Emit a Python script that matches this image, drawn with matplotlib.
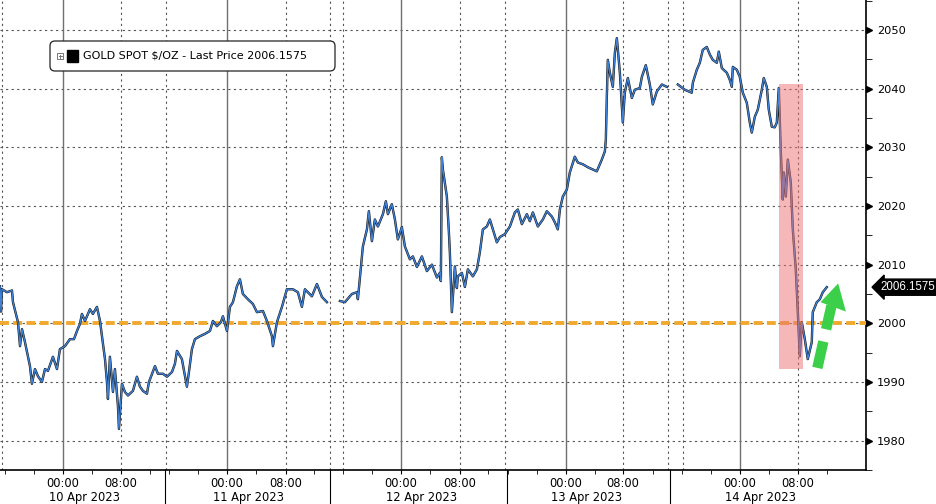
"""Gold spot intraday chart, 10-14 Apr 2023"""
import matplotlib
matplotlib.use("Agg")
import matplotlib.pyplot as plt
import matplotlib.transforms as mtransforms
from matplotlib.patches import Rectangle, Polygon, FancyBboxPatch
import numpy as np

nan = np.nan

# trading-time axis, hours after 10 Apr 00:00 (nan = session break)
HOURS = [
    -8.93, -8.79, -8.65, -7.94, -7.23, -7.09, -6.38, -6.09, -5.81, -5.39,
    -4.68, -4.40, -3.97, -3.55, -2.98, -2.55, -2.13, -1.42, -0.85, -0.43,
    0.28, 0.99, 1.56, 1.99, 2.41, 2.69, 3.12, 3.83, 4.25, 4.82,
    5.25, 5.53, 5.96, 6.24, 6.38, 6.66, 7.09, 7.37, 7.80, 7.94,
    8.37, 8.79, 9.22, 9.93, 10.49, 10.92, 11.34, 11.91, 12.20, 13.05,
    13.47, 14.18, 14.75, 15.46, 15.88, 16.17, 16.87, 17.58, 17.87, 18.29,
    18.72, 19.43, 20.14, 20.85, 21.27, 21.84, 22.40, 22.69, 23.26, 23.68,
    24.11, 24.67, 25.10, 25.52, 26.23, 26.94, 27.51, 28.36, 28.93, 29.64,
    29.78, 30.35, 31.06, 31.76, 32.61, 33.32, 33.89, 34.32, 35.31, 36.02,
    36.73, 37.44, nan,
    39.28, 39.99, 40.98, 41.69, 41.83, 42.40, 42.54, 43.11, 43.39, 43.82,
    44.24, 44.67, 45.38, 45.80, 46.09, 46.65, 47.08, 47.50, 48.07, 48.50,
    49.21, 49.63, 50.20, 50.91, 51.62, 52.33, 53.04, 53.46, 53.60, 53.74,
    53.89, 54.45, 54.74, 54.88, 55.16, 55.59, 55.87, 56.01, 56.58, 57.01,
    57.43, 58.14, 58.71, 59.13, 59.56, 60.12, 60.55, 60.98, 61.54, 61.97,
    62.68, 63.39, 64.10, 64.52, 65.09, 65.80, 66.22, 66.65, 67.36, 68.07,
    68.63, 69.34, 69.77, 70.19, 70.48, 70.90, 71.47, 71.89, 72.60, 73.03,
    73.74, 74.45, 75.16, 75.72, 76.43, 76.86, 77.00, 77.14, 77.28, 77.57,
    77.99, 78.28, 78.56, 78.99, 79.41, 79.69, 80.12, 80.69, 81.11, 81.82,
    82.11, 82.67, 83.24, 83.66, 84.23, 84.94, 85.65, nan,
    87.21, 88.20, 89.19, 89.34, 89.90, 90.33, 90.75, 91.32, 91.75, 92.17,
    92.74, 93.02, 93.45, 94.16, 94.58, 94.87, 95.01, 95.58, 96.00, 96.43,
    96.99, 97.42, 97.70, 98.13, 98.55, 99.12, 99.40, 99.83, 100.11, 100.54,
    100.96, 101.25, 101.53, 101.82, 102.10, 102.24, 102.53, 102.81, 103.23, 103.52,
    103.94, 104.23, 104.51, 104.79, 105.22, 105.64, 106.21, 106.35, 106.92, 107.35,
    107.77, 108.34,
]
PRICES = [
    2006.3, 2002.0, 2005.8, 2005.3, 2005.6, 2003.6, 2000.2, 1996.1, 1999.0, 1996.8,
    1992.7, 1989.7, 1992.2, 1991.0, 1990.0, 1992.2, 1991.9, 1994.3, 1992.2, 1995.6,
    1996.1, 1997.3, 1997.3, 1998.7, 1999.9, 2001.6, 2000.4, 2002.4, 2001.6, 2002.8,
    2000.4, 1997.8, 1993.9, 1990.0, 1987.1, 1994.3, 1988.3, 1992.2, 1985.9, 1982.0,
    1989.7, 1988.3, 1987.7, 1988.5, 1990.9, 1989.2, 1988.5, 1988.0, 1990.0, 1992.7,
    1991.4, 1991.4, 1990.9, 1991.7, 1993.1, 1995.3, 1993.9, 1989.2, 1991.7, 1995.6,
    1997.3, 1997.8, 1998.2, 1998.7, 2000.4, 1999.5, 2000.2, 2001.2, 1998.7, 2002.8,
    2003.6, 2006.3, 2007.5, 2005.0, 2004.1, 2003.3, 2001.9, 2002.1, 2000.4, 1997.8,
    1996.1, 2000.2, 2002.8, 2005.8, 2005.8, 2005.3, 2002.8, 2005.8, 2004.6, 2006.7,
    2004.5, 2003.6, nan,
    2003.8, 2003.6, 2005.0, 2005.3, 2004.1, 2011.4, 2013.1, 2016.0, 2019.1, 2014.0,
    2017.7, 2016.5, 2018.6, 2020.8, 2018.6, 2020.3, 2017.7, 2014.3, 2016.4, 2013.1,
    2010.9, 2011.4, 2009.6, 2011.4, 2008.9, 2010.0, 2007.8, 2008.6, 2007.2, 2028.3,
    2026.2, 2021.6, 2015.5, 2012.0, 2001.9, 2009.7, 2006.0, 2008.0, 2008.6, 2006.2,
    2009.2, 2008.0, 2009.2, 2012.1, 2016.0, 2016.5, 2017.7, 2016.0, 2013.8, 2014.7,
    2015.2, 2016.5, 2018.9, 2019.4, 2016.9, 2018.6, 2017.4, 2018.9, 2016.5, 2017.7,
    2019.1, 2018.2, 2017.2, 2016.0, 2019.4, 2021.6, 2022.8, 2025.7, 2028.4, 2027.4,
    2027.1, 2026.6, 2026.2, 2025.9, 2027.9, 2029.3, 2031.3, 2038.6, 2044.9, 2042.7,
    2040.3, 2046.1, 2048.6, 2042.7, 2034.2, 2039.3, 2041.8, 2038.4, 2039.8, 2040.1,
    2042.0, 2044.0, 2040.7, 2037.3, 2039.5, 2040.7, 2040.3, nan,
    2040.7, 2039.8, 2039.3, 2041.0, 2043.2, 2044.4, 2046.6, 2047.1, 2045.8, 2044.9,
    2044.4, 2046.3, 2043.5, 2042.7, 2041.5, 2040.3, 2043.7, 2043.2, 2042.0, 2039.3,
    2037.6, 2034.2, 2032.5, 2035.2, 2036.4, 2039.8, 2041.8, 2040.3, 2036.4, 2033.5,
    2033.4, 2034.2, 2040.1, 2029.1, 2021.1, 2025.7, 2021.6, 2027.9, 2024.0, 2016.0,
    2009.2, 2001.9, 1994.4, 2000.2, 1997.3, 1993.9, 1996.8, 2001.9, 2003.6, 2004.1,
    2005.3, 2006.16,
]

LAST_PRICE = "2006.1575"
LEGEND_TEXT = "GOLD SPOT $/OZ - Last Price 2006.1575"

MIDNIGHTS = [0.0, 23.26, 47.93, 71.33, 96.0]
EIGHTS = [8.22, 31.62, 56.30, 79.41, 104.23]
DAY_LABELS = ["10 Apr 2023", "11 Apr 2023", "12 Apr 2023", "13 Apr 2023", "14 Apr 2023"]
DOTTED_X = [-8.65, 8.22, 14.61, 31.62, 37.86, 39.71, 56.30, 62.68, 79.41, 85.79, 87.92, 104.23]
SESSION_BREAKS = [14.46, 37.86, 62.96, 86.07]
Y_TICKS = [1980, 1990, 2000, 2010, 2020, 2030, 2040, 2050]

REFERENCE_LEVEL = 2000
SELLOFF_SPAN = (101.53, 104.94)
SELLOFF_RANGE = (1992.2, 2040.7)
ARROW_TAIL = (107.0, 1992.4)
ARROW_NECK = (109.0, 2003.0)
ARROW_HEAD = [(109.95, 2006.8), (107.45, 2003.6), (111.05, 2002.0)]

fig = plt.figure(figsize=(9.36, 5.04), dpi=100)
ax = fig.add_axes([0, 34 / 504, 866 / 936, 470 / 504])
ax.set_xlim(-8.93, 113.9)
ax.set_ylim(1975.24, 2055.1)

grid_kw = dict(color="#555555", lw=0.8, ls=(0, (2, 3)), zorder=1)
for y in Y_TICKS:
    ax.axhline(y, **grid_kw)
for x in DOTTED_X:
    ax.axvline(x, **grid_kw)
for x in MIDNIGHTS:
    ax.axvline(x, color="#707070", lw=1.0, zorder=1)

ax.axhline(REFERENCE_LEVEL, color="#f0a92e", lw=2.8, ls=(0, (2.3, 1.1)), zorder=3)

ax.plot(HOURS, PRICES, color="#111111", lw=1.7, zorder=4)
ax.plot(HOURS, PRICES, color="#3f82d6", lw=1.0, zorder=5)

ax.add_patch(Rectangle((SELLOFF_SPAN[0], SELLOFF_RANGE[0]),
                       SELLOFF_SPAN[1] - SELLOFF_SPAN[0],
                       SELLOFF_RANGE[1] - SELLOFF_RANGE[0],
                       color="#ec7070", alpha=0.5, lw=0, zorder=6))

green = "#3ccf4a"
ax.plot([ARROW_TAIL[0], ARROW_NECK[0]], [ARROW_TAIL[1], ARROW_NECK[1]],
        color=green, lw=7.5, ls=(0, (2.6, 1.2)), solid_capstyle="butt", zorder=7)
ax.add_patch(Polygon(ARROW_HEAD, closed=True, color=green, lw=0, zorder=7))

# axes styling
for side in ("left", "top"):
    ax.spines[side].set_visible(False)
for side in ("right", "bottom"):
    ax.spines[side].set_linewidth(1.2)
    ax.spines[side].set_color("black")

ax.yaxis.tick_right()
ax.set_yticks(Y_TICKS)
ax.set_yticks(np.arange(1975, 2056, 5), minor=True)
ax.tick_params(axis="y", which="major", length=0, pad=8, labelsize=8.2)
ax.tick_params(axis="y", which="minor", length=4, direction="out")
ytrans = mtransforms.blended_transform_factory(ax.transAxes, ax.transData)
ax.plot([1.004] * len(Y_TICKS), Y_TICKS, ls="none", marker=">", ms=5,
        color="black", transform=ytrans, clip_on=False)

xticks = MIDNIGHTS + EIGHTS
xlabels = ["00:00"] * len(MIDNIGHTS) + ["08:00"] * len(EIGHTS)
ax.set_xticks(xticks)
ax.set_xticklabels(xlabels)
minor = [m + k * 4.1 for m in MIDNIGHTS for k in (-2, -1, 1, 3)]
ax.set_xticks([m for m in minor if -8.9 < m < 113], minor=True)
ax.tick_params(axis="x", which="both", direction="out", length=3, pad=2, labelsize=8.3)

xtrans = mtransforms.blended_transform_factory(ax.transData, ax.transAxes)
for m, label in zip(MIDNIGHTS, DAY_LABELS):
    ax.text(m + 3.0, -0.058, label, transform=xtrans, ha="center", va="center",
            fontsize=8.3)
for b in SESSION_BREAKS:
    ax.plot([b, b], [0, -0.08], color="black", lw=0.8, transform=xtrans, clip_on=False)

# last price tag
ax.text(1.017, 2006.1575, LAST_PRICE, transform=ytrans, color="white",
        fontsize=8.3, family="Liberation Sans", va="center", ha="left",
        bbox=dict(boxstyle="larrow,pad=0.18", fc="black", ec="black"))

# legend box (inches)
inch = fig.dpi_scale_trans
fig.patches.append(FancyBboxPatch((0.50, 4.33), 2.85, 0.30,
                                  boxstyle="round,pad=0,rounding_size=0.05",
                                  fc="white", ec="#222222", lw=0.9, transform=inch))
fig.patches.append(Rectangle((0.57, 4.45), 0.06, 0.06, fc="white", ec="#777777",
                             lw=0.7, transform=inch))
fig.lines.append(plt.Line2D([0.585, 0.615], [4.48, 4.48], color="#777777", lw=0.7,
                            transform=inch))
fig.lines.append(plt.Line2D([0.60, 0.60], [4.465, 4.495], color="#777777", lw=0.7,
                            transform=inch))
fig.patches.append(Rectangle((0.67, 4.42), 0.11, 0.12, fc="black", ec="black",
                             transform=inch))
fig.text(0.83, 4.48, LEGEND_TEXT, transform=inch, fontsize=8, va="center", ha="left")

fig.savefig("out.png", dpi=100)
print("Saved out.png")
